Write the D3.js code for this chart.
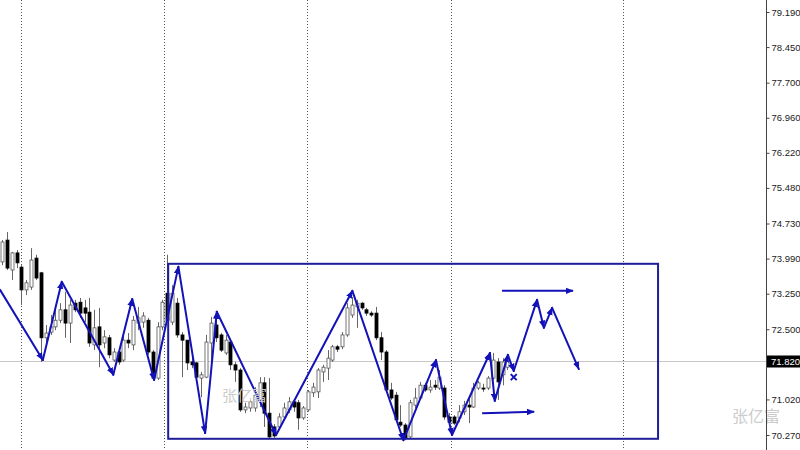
<!DOCTYPE html>
<html><head><meta charset="utf-8">
<script src="https://cdn.jsdelivr.net/npm/d3@7"></script>
<style>body{margin:0;background:#fff}svg{display:block}</style>
</head><body>
<svg id="c" width="800" height="450"></svg>
<script>
// ---- data ----
const opens = [73.92,74.38,73.75,74.11,73.81,73.33,73.39,74.00,73.69,72.32,
72.44,72.55,72.69,72.91,72.63,73.05,73.07,72.95,72.86,72.17,
72.55,72.21,72.32,71.85,72.02,71.85,72.27,72.17,72.63,72.65,
72.69,72.02,71.47,72.55,73.26,72.65,73.05,72.38,72.27,71.81,
71.79,71.47,71.49,72.21,72.59,72.38,72.00,72.23,71.75,71.64,
70.80,70.84,70.84,71.01,71.37,70.73,70.44,70.44,70.65,70.80,
70.97,70.95,70.63,70.80,71.16,71.18,71.60,71.68,71.85,72.13,
72.13,72.38,72.80,72.97,73.05,72.91,72.84,72.84,72.32,72.02,
71.22,71.11,70.54,70.48,70.23,70.90,71.05,71.32,71.22,71.32,
71.26,71.26,70.65,70.65,70.63,70.76,70.90,70.86,71.26,71.26,
71.26,71.47,71.81,71.54,71.70];
const highs = [74.38,74.55,74.13,74.17,73.85,73.54,74.21,74.07,73.71,72.59,
72.80,73.01,73.05,73.29,73.12,73.12,73.16,73.12,73.16,72.91,
72.95,72.48,72.38,72.10,72.06,72.38,72.42,72.78,72.97,72.86,
72.74,72.06,72.65,73.12,74.07,73.43,73.16,72.44,72.27,71.96,
71.81,71.60,72.38,72.76,72.86,72.42,72.38,72.27,71.81,71.68,
70.95,71.01,71.28,71.49,71.49,71.47,70.50,70.73,70.95,71.07,
71.01,71.01,70.88,71.22,71.37,71.68,71.75,72.06,72.17,72.17,
72.44,73.05,73.18,73.12,73.07,72.95,72.88,72.97,72.44,72.06,
71.37,71.18,70.90,70.52,71.01,71.26,71.39,71.37,71.43,71.43,
71.64,71.32,70.73,70.69,70.90,70.99,71.07,71.37,71.41,71.35,
71.51,72.00,71.89,71.89,71.94];
const lows = [73.85,73.75,73.54,73.79,73.01,73.22,73.33,73.54,71.81,72.17,
72.38,72.48,72.63,72.32,72.21,72.86,72.74,72.65,72.13,72.06,
71.70,72.10,71.89,71.81,71.75,71.81,72.10,72.06,72.48,72.53,
71.96,71.43,71.43,72.48,72.65,72.59,72.32,71.49,71.64,71.68,
71.47,71.07,71.47,71.81,72.23,72.02,71.96,71.64,71.39,70.76,
70.73,70.76,70.76,70.86,70.44,70.21,70.21,70.38,70.59,70.73,
70.76,70.38,70.59,70.76,71.07,71.05,71.39,71.43,71.81,72.02,
72.08,72.34,72.74,72.53,72.91,72.78,72.76,72.27,71.85,71.18,
71.01,70.54,70.44,70.16,70.21,70.84,71.01,71.18,71.16,71.22,
71.22,70.59,70.50,70.48,70.54,70.69,70.52,70.84,71.22,71.18,
71.22,71.43,71.01,71.32,71.64];
const closes = [74.34,73.79,74.11,73.90,73.33,73.48,73.96,73.58,72.32,72.42,
72.55,72.69,72.91,72.63,73.01,72.91,72.84,72.84,72.21,72.53,
72.17,72.34,71.96,72.02,71.81,72.27,72.21,72.69,72.74,72.78,
72.02,71.47,72.55,73.07,72.69,73.26,72.38,72.27,71.79,71.75,
71.49,71.54,72.23,72.63,72.32,72.06,72.27,71.75,71.64,70.80,
70.86,70.97,71.11,71.37,70.73,70.23,70.25,70.65,70.84,70.97,
70.86,70.63,70.84,71.18,71.28,71.64,71.70,71.89,72.13,72.08,
72.38,72.95,73.01,73.05,72.95,72.84,72.80,72.32,72.02,71.22,
71.05,70.59,70.48,70.21,70.95,71.05,71.32,71.22,71.28,71.28,
71.49,70.65,70.54,70.52,70.76,70.90,70.86,71.26,71.37,71.24,
71.47,71.85,71.39,71.81,71.82];

const zzIdx   = [-0.4, 8.4, 12.3, 22.9, 26.8, 31.3, 36.3, 41.8, 44.2, 56.4, 72.1, 82.6, 89.3, 92.6, 100.4, 101.4, 104.1, 105.3];
const zzPrice = [73.33,71.85,73.50,71.54,73.14,71.43,73.82,70.31,72.87,70.27,73.31,70.16,71.85,70.27,72.00,70.99,71.96,71.62];
const projIdx   = [105.3, 110.1, 111.5, 113.2, 118.7];
const projPrice = [71.62, 73.12, 72.53, 72.95, 71.66];
const xMarkIdx = 105.3, xMarkPrice = 71.49;
const topArrowIdx = [102.9, 117.5], topArrowPrice = [73.31, 73.31];
const botArrowIdx = [98.8, 109.5],  botArrowPrice = [70.73, 70.76];
const boxIdx = [34.2, 135.0], boxPrice = [73.88, 70.19];
const gridIdx = [3.9, 33.3, 62.8, 92.4, 127.8];
const yTicks = [79.19, 78.45, 77.70, 76.96, 76.22, 75.48, 74.73, 73.99, 73.25, 72.50, 71.02, 70.27];
const lastPrice = 71.82;
const watermark = "张亿富";

// ---- scales ----
const svg = d3.select("#c");
const x = d3.scaleLinear().domain([0, 104]).range([2, 507.4]);
const y = d3.scaleLinear().domain([70.27, 79.19]).range([435, 12]);
const axisX = 766;

// grid
svg.append("g").selectAll("line").data(gridIdx).join("line")
  .attr("x1", d => Math.round(x(d)) + 0.5).attr("x2", d => Math.round(x(d)) + 0.5)
  .attr("y1", 0).attr("y2", 450)
  .attr("stroke", "#555").attr("stroke-width", 1).attr("stroke-dasharray", "1,2");

// last price line
svg.append("line").attr("x1", 0).attr("x2", axisX)
  .attr("y1", Math.round(y(lastPrice)) + 0.5).attr("y2", Math.round(y(lastPrice)) + 0.5)
  .attr("stroke", "#c8c8c8").attr("stroke-width", 1);

// candles
const data = opens.map((o, i) => ({i, o, h: highs[i], l: lows[i], c: closes[i]}));
const cg = svg.append("g");
cg.selectAll("line").data(data).join("line")
  .attr("x1", d => Math.round(x(d.i)) + 0.5).attr("x2", d => Math.round(x(d.i)) + 0.5)
  .attr("y1", d => y(d.h)).attr("y2", d => y(d.l))
  .attr("stroke", "#666").attr("stroke-width", 1);
cg.selectAll("rect").data(data).join("rect")
  .attr("x", d => Math.round(x(d.i)) - 1)
  .attr("width", 3)
  .attr("y", d => y(Math.max(d.o, d.c)))
  .attr("height", d => Math.max(1, Math.abs(y(d.o) - y(d.c))))
  .attr("fill", d => d.c >= d.o ? "#fff" : "#000")
  .attr("stroke", d => d.c >= d.o ? "#555" : "#000")
  .attr("stroke-width", 0.8);

// markers
const blue = "#1212b8";
svg.append("defs").append("marker")
  .attr("id", "ah").attr("viewBox", "0 0 10 8").attr("refX", 9).attr("refY", 4)
  .attr("markerWidth", 8).attr("markerHeight", 7).attr("markerUnits", "userSpaceOnUse")
  .attr("orient", "auto")
  .append("path").attr("d", "M0,0 L10,4 L0,8 z").attr("fill", blue);

// box
svg.append("rect")
  .attr("x", x(boxIdx[0])).attr("y", y(boxPrice[0]))
  .attr("width", x(boxIdx[1]) - x(boxIdx[0]))
  .attr("height", y(boxPrice[1]) - y(boxPrice[0]))
  .attr("fill", "none").attr("stroke", "#1e1e9a").attr("stroke-width", 2);

// zigzag segments
function segs(ix, pr) {
  const s = [];
  for (let k = 0; k < ix.length - 1; k++) s.push([ix[k], pr[k], ix[k+1], pr[k+1]]);
  return s;
}
const zg = svg.append("g");
zg.selectAll("line.z").data(segs(zzIdx, zzPrice).concat(segs(projIdx, projPrice))).join("line")
  .attr("x1", d => x(d[0])).attr("y1", d => y(d[1]))
  .attr("x2", d => x(d[2])).attr("y2", d => y(d[3]))
  .attr("stroke", blue).attr("stroke-width", 2).attr("stroke-linecap", "round")
  .attr("marker-end", "url(#ah)");

// horizontal arrows
[[topArrowIdx, topArrowPrice], [botArrowIdx, botArrowPrice]].forEach(([ix, pr]) => {
  zg.append("line")
    .attr("x1", x(ix[0])).attr("y1", y(pr[0]))
    .attr("x2", x(ix[1])).attr("y2", y(pr[1]))
    .attr("stroke", blue).attr("stroke-width", 2)
    .attr("marker-end", "url(#ah)");
});

// X mark
const xm = x(xMarkIdx), ym = y(xMarkPrice);
zg.append("path")
  .attr("d", `M${xm-3},${ym-3}L${xm+3},${ym+3}M${xm+3},${ym-3}L${xm-3},${ym+3}`)
  .attr("stroke", blue).attr("stroke-width", 2);

// watermarks
svg.append("text").attr("x", 222).attr("y", 401).text(watermark)
  .attr("font-family", "Noto Sans CJK SC").attr("font-size", 15).attr("fill", "#cccccc");
svg.append("text").attr("x", 732).attr("y", 422).text(watermark)
  .attr("font-family", "Noto Sans CJK SC").attr("font-size", 16).attr("fill", "#cccccc");

// right axis
const ax = svg.append("g").attr("transform", `translate(${axisX + 0.5},0)`)
  .call(d3.axisRight(y).tickValues(yTicks).tickFormat(d3.format(".3f")).tickSize(3).tickPadding(2));
ax.select(".domain").attr("stroke", "#444").attr("d", "M0,0V450");
ax.selectAll(".tick line").attr("stroke", "#444");
ax.selectAll("text").attr("font-family", "Liberation Sans, Arial, sans-serif")
  .attr("font-size", 9.5).attr("fill", "#222");

// last price label
const ly = y(lastPrice);
svg.append("rect").attr("x", axisX + 1).attr("y", ly - 6).attr("width", 34).attr("height", 12).attr("fill", "#000");
svg.append("text").attr("x", axisX + 5).attr("y", ly + 3.5).text(d3.format(".3f")(lastPrice))
  .attr("font-family", "Liberation Sans, Arial, sans-serif").attr("font-size", 9.5).attr("fill", "#fff");
</script>
</body></html>
